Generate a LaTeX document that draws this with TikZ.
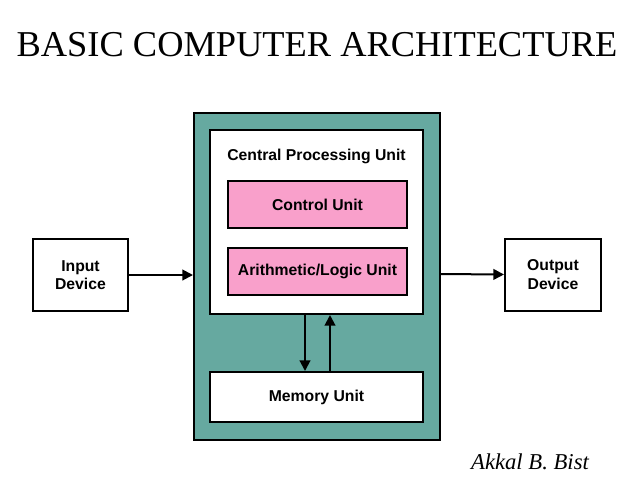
\documentclass[tikz,border=0pt]{standalone}
\usepackage{fontspec}
\setmainfont{Liberation Sans}
\newfontfamily\titlefont{Liberation Serif}
\usetikzlibrary{arrows.meta}
\definecolor{teal1}{HTML}{66A9A0}
\definecolor{pink1}{HTML}{F9A0CB}
\tikzset{
  box/.style={draw=black, line width=1.5pt, fill=white, font=\bfseries\fontsize{11.8}{14}\selectfont, align=center},
  arr/.style={line width=1.5pt, -{Triangle[length=8pt,width=8pt]}}
}
\begin{document}
\begin{tikzpicture}[x=0.75pt,y=-0.75pt]
\useasboundingbox (0,0) rectangle (638,479);
\node[font=\titlefont\fontsize{27.3}{31}\selectfont] (title) at (317,45) {BASIC COMPUTER ARCHITECTURE};
\draw[line width=1.5pt, fill=teal1] (194,113) rectangle (440,440);
\node[box, minimum width=160pt, minimum height=138pt] (cpu) at (316.5,222) {};
\node[font=\bfseries\fontsize{11.8}{14}\selectfont] (cpul) at (316.5,156) {Central Processing Unit};
\node[box, fill=pink1, minimum width=134pt, minimum height=35pt] (cu) at (317.5,204.5) {Control Unit};
\node[box, fill=pink1, minimum width=134pt, minimum height=35pt] (alu) at (317.5,271.5) {Arithmetic/Logic Unit};
\node[box, minimum width=160pt, minimum height=37.5pt] (mem) at (316.5,397) {Memory Unit};
\node[box, minimum width=71pt, minimum height=54pt] (in) at (80.5,275) {Input\\Device};
\node[box, minimum width=72pt, minimum height=54pt] (out) at (553,274.5) {Output\\Device};
\coordinate (tin) at (193,275);
\coordinate (fout) at (440,274);
\draw[arr] (in.east) -- (tin);
\draw[arr] (fout) -- (out.west);
\draw[arr] (cpu.south -| 305,0) -- (mem.north -| 305,0);
\draw[arr] (mem.north -| 330,0) -- (cpu.south -| 330,0);
\node[font=\titlefont\itshape\fontsize{17}{19}\selectfont] (sig) at (530,462) {Akkal B. Bist};
\end{tikzpicture}
\end{document}
